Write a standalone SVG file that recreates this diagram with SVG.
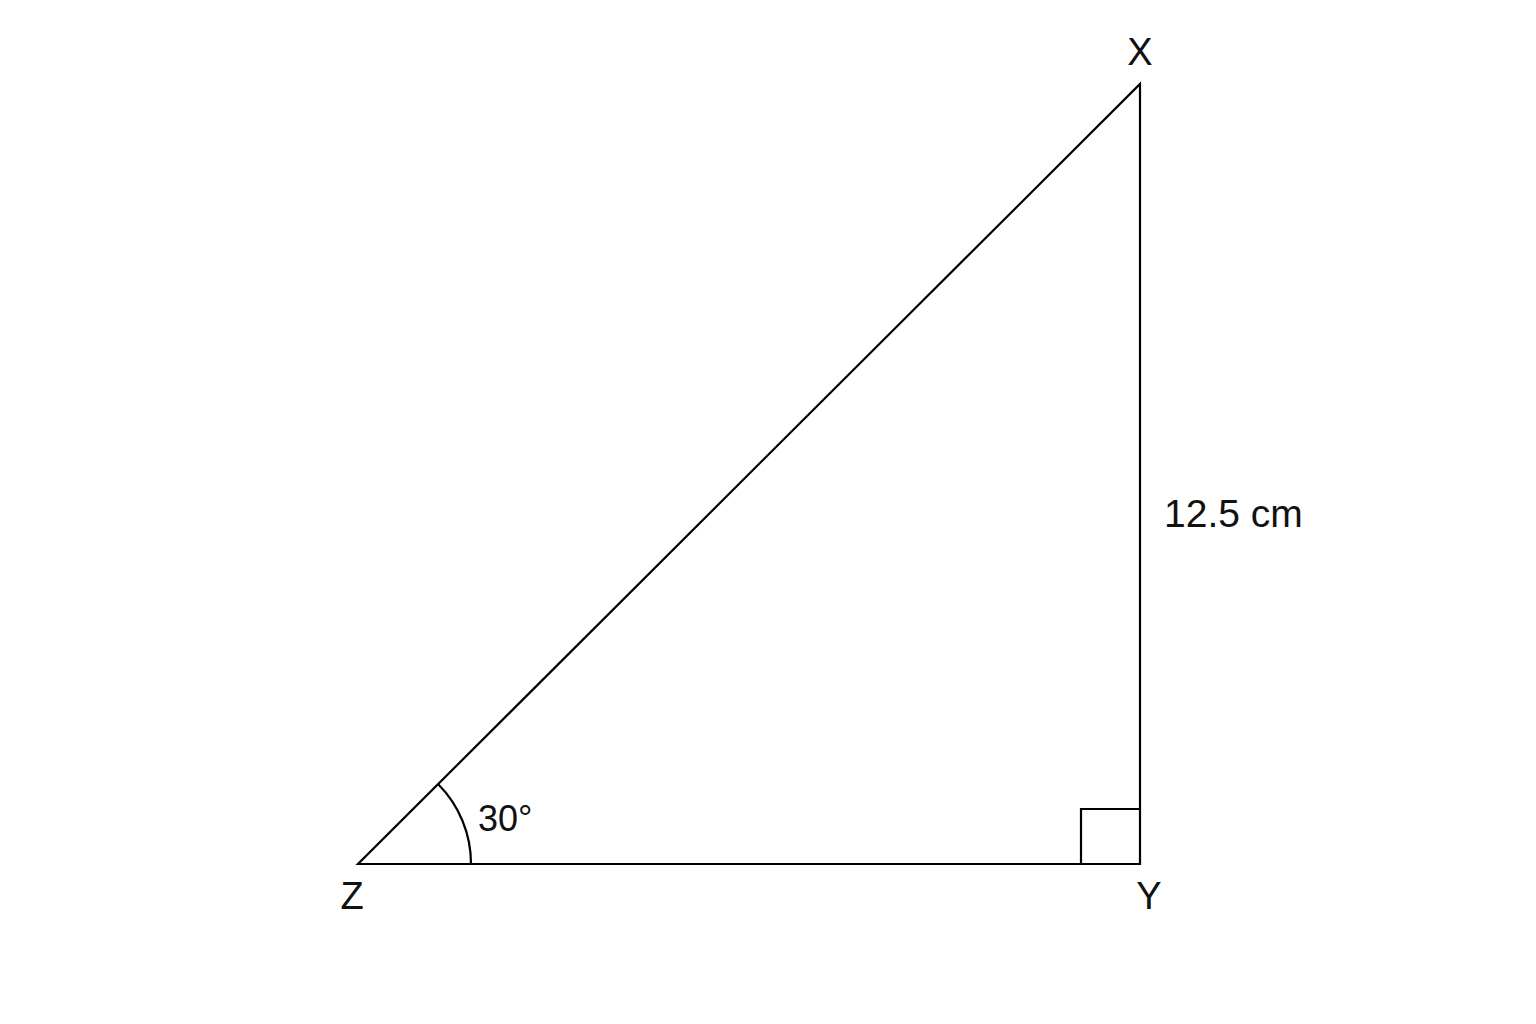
<svg xmlns="http://www.w3.org/2000/svg" width="1536" height="1024" viewBox="0 0 1536 1024">
<style>
.ln{fill:none;stroke:#000;stroke-width:2.2;stroke-linejoin:miter}
.lb{font-family:"Liberation Sans",Arial,sans-serif;font-size:38px;fill:#111}
</style>
<rect width="1536" height="1024" fill="#fff"/>
<g id="edges">
<polygon class="ln" points="358,864 1140,864 1140,84"/>
<path class="ln" d="M1081,864 V809 H1140"/>
<path class="ln" d="M471,864 A113,113 0 0 0 438,784"/>
</g>
<g id="node-X"><text class="lb" x="1140" y="65" text-anchor="middle">X</text></g>
<g id="node-Y"><text class="lb" x="1149" y="909" text-anchor="middle">Y</text></g>
<g id="node-Z"><text class="lb" x="352" y="909" text-anchor="middle">Z</text></g>
<g id="label-side"><text class="lb" x="1164" y="527" style="font-size:39px">12.5 cm</text></g>
<g id="label-angle"><text class="lb" x="478" y="831" style="font-size:36px">30°</text></g>
</svg>
